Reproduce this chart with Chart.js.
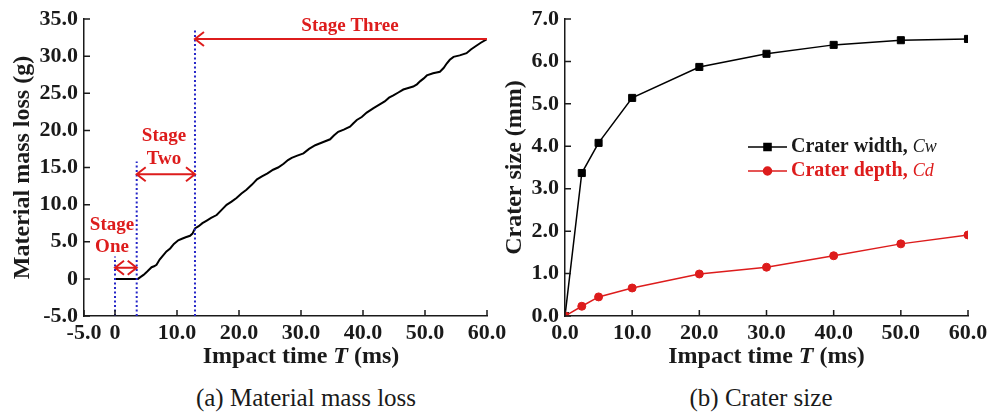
<!DOCTYPE html>
<html>
<head>
<meta charset="utf-8">
<script src="https://cdn.jsdelivr.net/npm/chart.js@4.4.1/dist/chart.umd.min.js"></script>
<style>
  body { margin: 0; background: #fff; width: 997px; height: 413px; position: relative; overflow: hidden; font-family: 'Liberation Serif', serif; }
  canvas { position: absolute; top: 0; }
  #massChart { left: 0; }
  #craterChart { left: 497px; }
  .caption { position: absolute; top: 383px; font-size: 25px; color: #1a1a1a; transform: translateX(-50%); white-space: nowrap; line-height: 30px; }
</style>
</head>
<body>
<canvas id="craterChart" width="500" height="375"></canvas>
<canvas id="massChart" width="520" height="375"></canvas>
<div class="caption" style="left:306px">(a) Material mass loss</div>
<div class="caption" style="left:761px">(b) Crater size</div>
<script>
// mass loss record (ms, g)
const massTime = [0, 3.7, 4.2, 4.6, 5.2, 5.9, 6.3, 6.7, 7.2, 7.8, 8.3, 8.9, 9.5, 10.2, 10.8, 11.4, 12.1, 12.5, 12.9, 13.5,
  14.1, 14.8, 15.5, 16.4, 17.2, 18.0, 18.8, 19.6, 20.4, 21.2, 22.1, 22.9, 23.7, 24.6, 25.5, 26.3, 27.2, 27.9, 28.5, 29.4,
  30.4, 31.3, 32.3, 33.5, 34.7, 35.3, 36.0, 36.9, 37.9, 38.5, 39.0, 39.8, 40.6, 41.7, 42.5, 43.5, 44.2, 44.9, 45.7, 46.5,
  47.3, 48.1, 48.7, 49.2, 49.8, 50.3, 51.3, 52.4, 53.0, 53.5, 54.0, 54.6, 55.6, 56.7, 57.4, 58.1, 59.0, 60.0];
const massLoss = [0, 0, 0.3, 0.54, 1.0, 1.57, 1.7, 1.9, 2.6, 3.2, 3.7, 4.1, 4.7, 5.2, 5.4, 5.6, 5.8, 6.1, 6.8, 7.1,
  7.5, 7.85, 8.2, 8.6, 9.3, 9.97, 10.4, 10.9, 11.5, 12.0, 12.7, 13.4, 13.8, 14.2, 14.7, 15.0, 15.5, 16.0, 16.3, 16.6,
  16.9, 17.5, 18.0, 18.4, 18.8, 19.3, 19.8, 20.1, 20.5, 21.0, 21.4, 21.8, 22.4, 23.0, 23.4, 23.9, 24.4, 24.7, 25.1, 25.5,
  25.7, 25.9, 26.2, 26.6, 27.0, 27.4, 27.7, 27.9, 28.4, 29.0, 29.5, 29.9, 30.1, 30.4, 30.9, 31.3, 31.8, 32.3];

// stages: start/end time, arrow level, height of the dotted boundary
const stageNames = ['Stage One', 'Stage Two', 'Stage Three'];
const stageStart = [0, 3.5, 12.9];
const stageEnd = [3.5, 12.9, 60];
const stageArrowAt = [1.5, 14.1, 32.3];
const stageLineTop = [3.0, 15.8, 33.7];

const massXTicks = [-5, 0, 10, 20, 30, 40, 50, 60];
const massYTicks = [-5, 0, 5, 10, 15, 20, 25, 30, 35];

// crater measurements (ms, mm)
const craterTime = [0, 2.5, 5, 10, 20, 30, 40, 50, 60];
const craterWidth = [0, 3.37, 4.08, 5.14, 5.87, 6.18, 6.39, 6.50, 6.53];
const craterDepth = [0, 0.23, 0.45, 0.66, 0.99, 1.15, 1.42, 1.70, 1.91];

const craterXTicks = [0, 10, 20, 30, 40, 50, 60];
const craterYTicks = [0, 1, 2, 3, 4, 5, 6, 7];

const SERIF = "'Liberation Serif', 'Times New Roman', serif";
const INK = '#1a1a1a';
const RED = '#dd1c1c';
const BLUE = '#2525c8';
Chart.defaults.font.family = SERIF;
Chart.defaults.color = INK;

const tickFont = { family: SERIF, size: 22, weight: 'bold' };
const titleFont = { family: SERIF, size: 24, weight: 'bold' };
const fixedTicks = (values) => (scale) => { scale.ticks = values.map((v) => ({ value: v })); };
const fixedSize = (prop, px) => (scale) => {
  scale[prop] = px;
  scale.paddingLeft = scale.paddingRight = scale.paddingTop = scale.paddingBottom = 0;
};

// short tick marks pointing into the plot
const innerTicks = {
  id: 'innerTicks',
  afterDraw(chart) {
    const { ctx, scales: { x, y } } = chart;
    ctx.save();
    ctx.strokeStyle = INK; ctx.lineWidth = 1.5;
    ctx.beginPath();
    x.ticks.forEach((t) => { const p = x.getPixelForValue(t.value); ctx.moveTo(p, x.top); ctx.lineTo(p, x.top - 6); });
    y.ticks.forEach((t) => { const p = y.getPixelForValue(t.value); ctx.moveTo(y.right, p); ctx.lineTo(y.right + 6, p); });
    ctx.stroke();
    ctx.restore();
  },
};

// "Impact time T (ms)" with an italic T, centred over 0..60
const xTitle = {
  id: 'xTitle',
  afterDraw(chart) {
    const { ctx, scales: { x } } = chart;
    const parts = [['Impact time ', 'bold'], ['T', 'italic bold'], [' (ms)', 'bold']];
    ctx.save();
    ctx.fillStyle = INK; ctx.textBaseline = 'middle';
    const widths = parts.map(([s, w]) => { ctx.font = `${w} 24px ${SERIF}`; return ctx.measureText(s).width; });
    const total = widths.reduce((a, b) => a + b, 0);
    let cx = (x.getPixelForValue(0) + x.getPixelForValue(60)) / 2 - total / 2;
    parts.forEach(([s, w], i) => { ctx.font = `${w} 24px ${SERIF}`; ctx.fillText(s, cx, 357); cx += widths[i]; });
    ctx.restore();
  },
};

function arrowHead(ctx, x, y, dir) {
  ctx.moveTo(x + dir * 9, y - 7); ctx.lineTo(x, y); ctx.lineTo(x + dir * 9, y + 7);
}

// stage boundaries, arrows and labels on the mass-loss plot
const stages = {
  id: 'stages',
  afterDatasetsDraw(chart) {
    const { ctx, scales: { x, y } } = chart;
    ctx.save();
    ctx.strokeStyle = BLUE; ctx.lineWidth = 2; ctx.setLineDash([2, 2.5]);
    stageStart.forEach((t, i) => {
      ctx.beginPath();
      ctx.moveTo(x.getPixelForValue(t), y.bottom);
      ctx.lineTo(x.getPixelForValue(t), y.getPixelForValue(stageLineTop[i]));
      ctx.stroke();
    });
    ctx.setLineDash([]);
    ctx.strokeStyle = RED; ctx.lineWidth = 2;
    stageStart.forEach((t, i) => {
      const x0 = x.getPixelForValue(t), x1 = x.getPixelForValue(stageEnd[i]), py = y.getPixelForValue(stageArrowAt[i]);
      ctx.beginPath();
      ctx.moveTo(x0, py); ctx.lineTo(x1, py);
      arrowHead(ctx, x0, py, 1);
      if (i < 2) arrowHead(ctx, x1, py, -1);
      ctx.stroke();
    });
    ctx.fillStyle = RED; ctx.font = `bold 19px ${SERIF}`;
    ctx.textAlign = 'center'; ctx.textBaseline = 'middle';
    ctx.fillText('Stage', 112, 225); ctx.fillText('One', 112, 247);
    ctx.fillText('Stage', 164, 136); ctx.fillText('Two', 164, 159);
    ctx.fillText(stageNames[2], 350, 26);
    ctx.restore();
  },
};

// legend with italic symbols
const craterLegend = {
  id: 'craterLegend',
  afterDraw(chart) {
    const { ctx } = chart;
    const rows = [['Crater width, ', 'Cw', INK], ['Crater depth, ', 'Cd', RED]];
    ctx.save();
    rows.forEach(([label, sym, color], i) => {
      const ds = chart.data.datasets[i];
      const yy = 147 + i * 24;
      ctx.strokeStyle = ds.borderColor; ctx.fillStyle = ds.borderColor; ctx.lineWidth = 1.5;
      ctx.beginPath(); ctx.moveTo(251, yy); ctx.lineTo(290, yy); ctx.stroke();
      Chart.helpers.drawPoint(ctx, { pointStyle: ds.pointStyle, radius: ds.pointRadius, rotation: 0, borderWidth: 1 }, 270.5, yy);
      ctx.fillStyle = color; ctx.textBaseline = 'middle';
      ctx.font = `bold 20px ${SERIF}`;
      ctx.fillText(label, 294, yy);
      const w = ctx.measureText(label).width;
      ctx.font = `italic 18px ${SERIF}`;
      ctx.fillText(sym, 294 + w, yy);
    });
    ctx.restore();
  },
};

const axisBorder = { display: true, color: INK, width: 1.5 };

new Chart(document.getElementById('massChart'), {
  type: 'line',
  data: {
    datasets: [{
      data: massTime.map((t, i) => ({ x: t, y: massLoss[i] })),
      borderColor: '#000', borderWidth: 2, pointRadius: 0, tension: 0, clip: 0,
    }],
  },
  options: {
    responsive: false, animation: false,
    layout: { padding: { top: 19, right: 33, left: 0, bottom: 0 } },
    plugins: { legend: { display: false }, tooltip: { enabled: false } },
    scales: {
      x: {
        type: 'linear', min: -5, max: 60,
        grid: { display: false, drawTicks: false }, border: axisBorder,
        afterBuildTicks: fixedTicks(massXTicks), afterFit: fixedSize('height', 59),
        ticks: { font: tickFont, color: INK, padding: 4, maxRotation: 0, autoSkip: false, callback: (v) => (v === 0 ? '0' : v.toFixed(1)) },
      },
      y: {
        min: -5, max: 35,
        grid: { display: false, drawTicks: false }, border: axisBorder,
        afterBuildTicks: fixedTicks(massYTicks), afterFit: fixedSize('width', 84),
        ticks: { font: tickFont, color: INK, padding: 6, autoSkip: false, callback: (v) => (v === 0 ? '0' : v.toFixed(1)) },
        title: { display: true, text: 'Material mass loss (g)', font: titleFont, color: INK, padding: { top: 8, bottom: 0 } },
      },
    },
  },
  plugins: [stages, innerTicks, xTitle],
});

new Chart(document.getElementById('craterChart'), {
  type: 'line',
  data: {
    datasets: [
      {
        label: 'Crater width', data: craterTime.map((t, i) => ({ x: t, y: craterWidth[i] })),
        borderColor: '#000', backgroundColor: '#000', borderWidth: 1.5,
        pointStyle: 'rect', pointRadius: 5, pointBorderWidth: 1, tension: 0, clip: 0, order: 1,
      },
      {
        label: 'Crater depth', data: craterTime.map((t, i) => ({ x: t, y: craterDepth[i] })),
        borderColor: RED, backgroundColor: RED, borderWidth: 1.5,
        pointStyle: 'circle', pointRadius: 4, pointBorderWidth: 1, tension: 0, clip: 0, order: 0,
      },
    ],
  },
  options: {
    responsive: false, animation: false,
    layout: { padding: { top: 19, right: 29, left: 0, bottom: 0 } },
    plugins: { legend: { display: false }, tooltip: { enabled: false } },
    scales: {
      x: {
        type: 'linear', min: 0, max: 60,
        grid: { display: false, drawTicks: false }, border: axisBorder,
        afterBuildTicks: fixedTicks(craterXTicks), afterFit: fixedSize('height', 59),
        ticks: { font: tickFont, color: INK, padding: 4, maxRotation: 0, autoSkip: false, callback: (v) => v.toFixed(1) },
      },
      y: {
        min: 0, max: 7,
        grid: { display: false, drawTicks: false }, border: axisBorder,
        afterBuildTicks: fixedTicks(craterYTicks), afterFit: fixedSize('width', 68),
        ticks: { font: tickFont, color: INK, padding: 6, autoSkip: false, callback: (v) => v.toFixed(1) },
        title: { display: true, text: 'Crater size (mm)', font: titleFont, color: INK, padding: { top: 3, bottom: 0 } },
      },
    },
  },
  plugins: [innerTicks, xTitle, craterLegend],
});
</script>
</body>
</html>
